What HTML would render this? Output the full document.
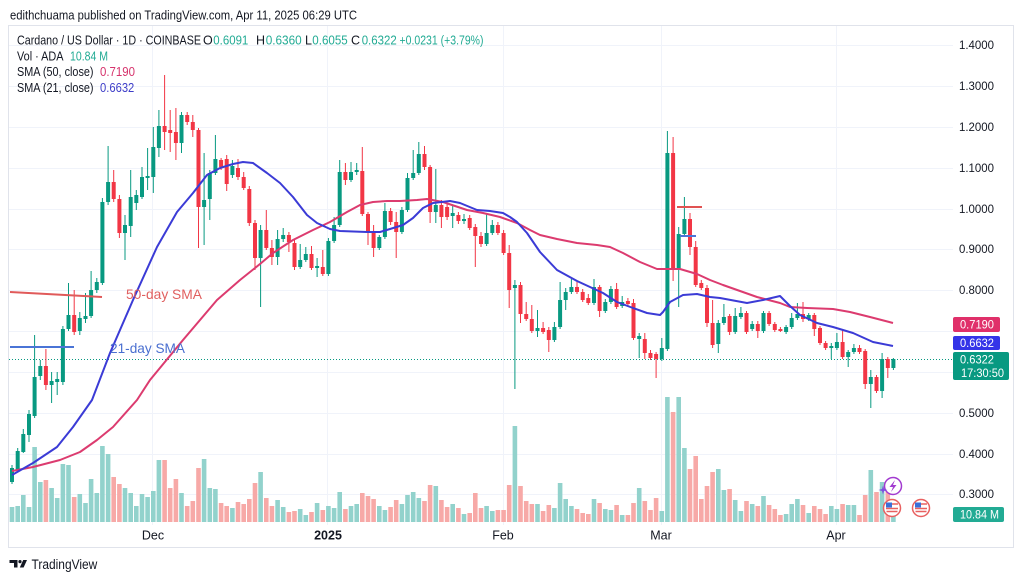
<!DOCTYPE html>
<html><head><meta charset="utf-8"><style>
html,body{margin:0;padding:0;background:#fff;}
svg{display:block;font-family:"Liberation Sans",sans-serif;}
</style></head><body>
<svg width="1024" height="581" viewBox="0 0 1024 581" xmlns="http://www.w3.org/2000/svg">
<rect width="1024" height="581" fill="#fff"/>
<!-- header -->
<text x="10" y="19.5" font-size="13" fill="#131722" textLength="347" lengthAdjust="spacingAndGlyphs">edithchuama published on TradingView.com, Apr 11, 2025 06:29 UTC</text>
<!-- frame -->
<rect x="8.5" y="25.5" width="1005" height="522" fill="none" stroke="#e0e3eb"/>
<!-- grid -->
<g stroke="#f0f3fa" stroke-width="1">
<path d="M9 45.5H953M9 86.5H953M9 127.5H953M9 168.5H953M9 209.5H953M9 249.5H953M9 290.5H953M9 331.5H953M9 372.5H953M9 413.5H953M9 454.5H953M9 494.5H953"/>
<path d="M152.5 26V525M327.5 26V525M503.5 26V525M661.5 26V525M836.5 26V525"/>
</g>
<!-- volume -->
<path fill="#92d2cc" d="M9.7 507h4.6V522h-4.6zM15.4 506h4.6V522h-4.6zM21 495h4.6V522h-4.6zM26.7 507h4.6V522h-4.6zM32.3 447h4.6V522h-4.6zM38 482h4.6V522h-4.6zM49.3 488h4.6V522h-4.6zM54.9 498h4.6V522h-4.6zM60.6 464h4.6V522h-4.6zM66.2 465h4.6V522h-4.6zM77.5 494h4.6V522h-4.6zM83.2 503h4.6V522h-4.6zM88.8 479h4.6V522h-4.6zM94.5 493h4.6V522h-4.6zM100.1 446h4.6V522h-4.6zM105.8 454h4.6V522h-4.6zM122.7 488h4.6V522h-4.6zM128.4 493h4.6V522h-4.6zM134 506h4.6V522h-4.6zM139.7 494h4.6V522h-4.6zM145.3 497h4.6V522h-4.6zM151 491h4.6V522h-4.6zM156.6 460h4.6V522h-4.6zM179.2 493h4.6V522h-4.6zM201.8 459h4.6V522h-4.6zM207.5 488h4.6V522h-4.6zM213.1 489h4.6V522h-4.6zM230.1 508h4.6V522h-4.6zM258.3 472h4.6V522h-4.6zM275.3 500h4.6V522h-4.6zM280.9 507h4.6V522h-4.6zM297.9 509h4.6V522h-4.6zM303.5 515h4.6V522h-4.6zM314.8 503h4.6V522h-4.6zM326.1 506h4.6V522h-4.6zM331.8 508h4.6V522h-4.6zM337.4 492h4.6V522h-4.6zM348.7 506h4.6V522h-4.6zM354.4 504h4.6V522h-4.6zM377 506h4.6V522h-4.6zM382.6 510h4.6V522h-4.6zM399.6 504h4.6V522h-4.6zM405.2 495h4.6V522h-4.6zM410.9 492h4.6V522h-4.6zM416.5 498h4.6V522h-4.6zM433.5 486h4.6V522h-4.6zM450.4 504h4.6V522h-4.6zM461.7 514h4.6V522h-4.6zM484.3 506h4.6V522h-4.6zM490 511h4.6V522h-4.6zM512.6 426h4.6V522h-4.6zM535.2 504h4.6V522h-4.6zM552.1 508h4.6V522h-4.6zM557.8 483h4.6V522h-4.6zM563.4 499h4.6V522h-4.6zM569.1 506h4.6V522h-4.6zM591.7 499h4.6V522h-4.6zM603 509h4.6V522h-4.6zM608.6 510h4.6V522h-4.6zM619.9 515h4.6V522h-4.6zM636.9 488h4.6V522h-4.6zM659.5 511h4.6V522h-4.6zM665.1 397h4.6V522h-4.6zM676.4 397h4.6V522h-4.6zM682.1 448h4.6V522h-4.6zM716 469h4.6V522h-4.6zM721.6 490h4.6V522h-4.6zM732.9 500h4.6V522h-4.6zM738.6 511h4.6V522h-4.6zM749.9 504h4.6V522h-4.6zM761.2 496h4.6V522h-4.6zM783.8 514h4.6V522h-4.6zM789.4 504h4.6V522h-4.6zM795.1 499h4.6V522h-4.6zM806.4 513h4.6V522h-4.6zM829 506h4.6V522h-4.6zM834.6 509h4.6V522h-4.6zM845.9 505h4.6V522h-4.6zM851.6 505h4.6V522h-4.6zM868.5 470h4.6V522h-4.6zM879.8 482h4.6V522h-4.6zM891.1 508h4.6V522h-4.6z"/>
<path fill="#f7a9a7" d="M43.6 480h4.6V522h-4.6zM71.9 497h4.6V522h-4.6zM111.4 477h4.6V522h-4.6zM117.1 484h4.6V522h-4.6zM162.3 460h4.6V522h-4.6zM167.9 488h4.6V522h-4.6zM173.6 479h4.6V522h-4.6zM184.9 506h4.6V522h-4.6zM190.5 501h4.6V522h-4.6zM196.2 468h4.6V522h-4.6zM218.8 503h4.6V522h-4.6zM224.4 506h4.6V522h-4.6zM235.7 502h4.6V522h-4.6zM241.4 504h4.6V522h-4.6zM247 499h4.6V522h-4.6zM252.7 483h4.6V522h-4.6zM264 498h4.6V522h-4.6zM269.6 506h4.6V522h-4.6zM286.6 512h4.6V522h-4.6zM292.2 511h4.6V522h-4.6zM309.2 512h4.6V522h-4.6zM320.5 510h4.6V522h-4.6zM343.1 509h4.6V522h-4.6zM360 493h4.6V522h-4.6zM365.7 496h4.6V522h-4.6zM371.3 499h4.6V522h-4.6zM388.3 507h4.6V522h-4.6zM393.9 500h4.6V522h-4.6zM422.2 501h4.6V522h-4.6zM427.8 485h4.6V522h-4.6zM439.1 500h4.6V522h-4.6zM444.8 507h4.6V522h-4.6zM456.1 508h4.6V522h-4.6zM467.4 513h4.6V522h-4.6zM473 493h4.6V522h-4.6zM478.7 508h4.6V522h-4.6zM495.6 510h4.6V522h-4.6zM501.3 510h4.6V522h-4.6zM506.9 485h4.6V522h-4.6zM518.2 486h4.6V522h-4.6zM523.9 501h4.6V522h-4.6zM529.5 504h4.6V522h-4.6zM540.8 511h4.6V522h-4.6zM546.5 505h4.6V522h-4.6zM574.7 509h4.6V522h-4.6zM580.4 513h4.6V522h-4.6zM586 514h4.6V522h-4.6zM597.3 503h4.6V522h-4.6zM614.3 505h4.6V522h-4.6zM625.6 515h4.6V522h-4.6zM631.2 503h4.6V522h-4.6zM642.5 501h4.6V522h-4.6zM648.2 510h4.6V522h-4.6zM653.8 498h4.6V522h-4.6zM670.8 412h4.6V522h-4.6zM687.7 469h4.6V522h-4.6zM693.4 456h4.6V522h-4.6zM699 499h4.6V522h-4.6zM704.7 486h4.6V522h-4.6zM710.3 472h4.6V522h-4.6zM727.3 489h4.6V522h-4.6zM744.2 501h4.6V522h-4.6zM755.5 506h4.6V522h-4.6zM766.8 505h4.6V522h-4.6zM772.5 509h4.6V522h-4.6zM778.1 515h4.6V522h-4.6zM800.7 505h4.6V522h-4.6zM812 506h4.6V522h-4.6zM817.7 509h4.6V522h-4.6zM823.3 514h4.6V522h-4.6zM840.3 504h4.6V522h-4.6zM857.2 515h4.6V522h-4.6zM862.9 495h4.6V522h-4.6zM874.2 492h4.6V522h-4.6zM885.5 490h4.6V522h-4.6z"/>
<!-- dotted last price line -->
<path d="M9 359.5H953" stroke="#089981" stroke-width="1" stroke-dasharray="1 2"/>
<!-- wicks -->
<path fill="none" stroke="#089981" stroke-width="1" d="M12 465V484M17.7 448V472M23.3 429V453M29 410V442M34.6 335V418M40.3 360V380M51.6 372V403M57.2 372V395M62.9 326V385M68.5 283V331M79.8 312V335M85.5 293V323M91.1 271V318M96.8 278V293M102.4 198V285M108.1 146V205M125 215V260M130.7 170V237M136.3 190V210M142 167V199M147.6 148V190M153.3 127V193M158.9 110V157M181.5 112V153M204.1 153V245M209.8 170V220M215.4 135V175M232.4 160V178M260.6 225V307M277.6 230V265M283.2 228V242M300.2 244V269M305.8 247V262M317.1 258V277M328.4 238V276M334.1 217V243M339.7 160V227M351 162V182M356.7 163V175M379.3 235V250M384.9 203V239M401.9 207V234M407.5 173V212M413.2 150V180M418.8 142V175M435.8 169V223M452.7 205V228M464 214V224M486.6 213V246M492.3 220V235M514.9 280V389M537.5 310V337M554.4 322V342M560.1 282V329M565.7 288V310M571.4 279V294M594 279V305M605.3 299V313M610.9 286V304M622.2 296V308M639.2 333V358M661.8 338V361M667.4 131V351M678.7 227V307M684.4 197V236M718.3 320V353M723.9 304V325M735.2 308V334M740.9 307V319M752.2 321V331M763.5 311V333M786.1 325V334M791.7 313V329M797.4 303V320M808.7 313V321M831.3 343V359M836.9 333V350M848.2 350V367M853.9 344V354M870.8 370V408M882.1 353V398M893.4 358V370"/>
<path fill="none" stroke="#f23645" stroke-width="1" d="M45.9 349V390M74.2 290V335M113.7 170V202M119.4 195V238M164.6 75V150M170.2 110V152M175.9 108V160M187.2 112V125M192.8 115V137M198.5 128V248M221.1 158V170M226.7 155V191M238 159V180M243.7 172V190M249.3 186V226M255 220V270M266.3 210V250M271.9 240V265M288.9 232V252M294.5 240V270M311.5 246V270M322.8 250V276M345.4 163V185M362.3 147V216M368 212V245M373.6 225V257M390.6 208V225M396.2 212V258M424.5 146V170M430.1 165V223M441.4 200V228M447.1 203V220M458.4 212V224M469.7 215V230M475.3 224V267M481 232V247M497.9 222V235M503.6 230V255M509.2 245V308M520.5 282V323M526.2 302V321M531.8 305V333M543.1 322V334M548.8 327V352M577 282V294M582.7 289V302M588.3 294V305M599.6 285V317M616.6 283V309M627.9 298V306M633.5 299V340M644.8 333V359M650.5 350V360M656.1 352V378M673.1 137V281M690 213V255M695.7 241V287M701.3 280V290M707 285V327M712.6 300V348M729.6 314V335M746.5 311V334M757.8 321V338M769.1 311V326M774.8 322V332M780.4 327V332M803 302V322M814.3 313V336M820 326V345M825.6 341V350M842.6 330V359M859.5 345V354M865.2 349V389M876.5 375V393M887.8 357V378"/>
<!-- bodies -->
<path fill="#089981" d="M10 468h4v14h-4zM15.7 451h4v19h-4zM21.3 434h4v18h-4zM27 414h4v21h-4zM32.6 377h4v39h-4zM38.3 366h4v10h-4zM49.6 381h4v4h-4zM55.2 379h4v3h-4zM60.9 329h4v53h-4zM66.5 315h4v14h-4zM77.8 318h4v13h-4zM83.5 316h4v3h-4zM89.1 290h4v26h-4zM94.8 282h4v8h-4zM100.4 202h4v81h-4zM106.1 182h4v20h-4zM123 225h4v8h-4zM128.7 197h4v29h-4zM134.3 195h4v8h-4zM140 177h4v20h-4zM145.6 176h4v2h-4zM151.3 147h4v30h-4zM156.9 126h4v22h-4zM179.5 115h4v28h-4zM202.1 200h4v7h-4zM207.8 173h4v26h-4zM213.4 159h4v14h-4zM230.4 166h4v9h-4zM258.6 230h4v28h-4zM275.6 239h4v18h-4zM281.2 235h4v4h-4zM298.2 260h4v7h-4zM303.8 254h4v6h-4zM315.1 266h4v2h-4zM326.4 241h4v33h-4zM332.1 225h4v16h-4zM337.7 172h4v53h-4zM349 172h4v8h-4zM354.7 170h4v2h-4zM377.3 237h4v11h-4zM382.9 211h4v26h-4zM399.9 210h4v22h-4zM405.5 178h4v32h-4zM411.2 173h4v5h-4zM416.8 154h4v19h-4zM433.8 205h4v7h-4zM450.7 213h4v3h-4zM462 219h4v2h-4zM484.6 233h4v11h-4zM490.3 225h4v8h-4zM512.9 285h4v3h-4zM535.5 328h4v3h-4zM552.4 327h4v13h-4zM558.1 300h4v27h-4zM563.7 292h4v8h-4zM569.4 287h4v5h-4zM592 287h4v16h-4zM603.3 302h4v9h-4zM608.9 289h4v13h-4zM620.2 302h4v4h-4zM637.2 336h4v3h-4zM659.8 348h4v11h-4zM665.4 153h4v196h-4zM676.7 234h4v34h-4zM682.4 219h4v15h-4zM716.3 323h4v21h-4zM721.9 317h4v6h-4zM733.2 316h4v16h-4zM738.9 313h4v4h-4zM750.2 324h4v5h-4zM761.5 313h4v18h-4zM784.1 327h4v5h-4zM789.7 318h4v9h-4zM795.4 314h4v4h-4zM806.7 315h4v4h-4zM829.3 346h4v2h-4zM834.9 342h4v6h-4zM846.2 352h4v5h-4zM851.9 348h4v4h-4zM868.8 377h4v7h-4zM880.1 359h4v32h-4zM891.4 359h4v9h-4z"/>
<path fill="#f23645" d="M43.9 366h4v19h-4zM72.2 315h4v17h-4zM111.7 182h4v17h-4zM117.4 199h4v34h-4zM162.6 126h4v6h-4zM168.2 130h4v3h-4zM173.9 132h4v11h-4zM185.2 115h4v7h-4zM190.8 122h4v8h-4zM196.5 130h4v77h-4zM219.1 160h4v7h-4zM224.7 159h4v25h-4zM236 168h4v9h-4zM241.7 177h4v11h-4zM247.3 189h4v34h-4zM253 223h4v35h-4zM264.3 230h4v18h-4zM269.9 248h4v9h-4zM286.9 235h4v7h-4zM292.5 243h4v24h-4zM309.5 254h4v14h-4zM320.8 267h4v7h-4zM343.4 172h4v8h-4zM360.3 171h4v43h-4zM366 214h4v18h-4zM371.6 232h4v16h-4zM388.6 211h4v11h-4zM394.2 222h4v10h-4zM422.5 154h4v13h-4zM428.1 167h4v45h-4zM439.4 205h4v12h-4zM445.1 207h4v10h-4zM456.4 215h4v6h-4zM467.7 218h4v10h-4zM473.3 227h4v9h-4zM479 236h4v8h-4zM495.9 225h4v8h-4zM501.6 233h4v20h-4zM507.2 253h4v37h-4zM518.5 285h4v29h-4zM524.2 314h4v5h-4zM529.8 319h4v12h-4zM541.1 328h4v4h-4zM546.8 330h4v10h-4zM575 287h4v5h-4zM580.7 292h4v8h-4zM586.3 298h4v5h-4zM597.6 287h4v24h-4zM614.6 289h4v18h-4zM625.9 301h4v3h-4zM631.5 303h4v35h-4zM642.8 339h4v14h-4zM648.5 353h4v5h-4zM654.1 354h4v5h-4zM671.1 153h4v115h-4zM688 219h4v28h-4zM693.7 247h4v38h-4zM699.3 283h4v5h-4zM705 288h4v35h-4zM710.6 323h4v22h-4zM727.6 316h4v16h-4zM744.5 313h4v19h-4zM755.8 324h4v7h-4zM767.1 313h4v11h-4zM772.8 324h4v6h-4zM778.4 329h4v2h-4zM801 314h4v5h-4zM812.3 315h4v14h-4zM818 328h4v15h-4zM823.6 343h4v5h-4zM840.6 342h4v15h-4zM857.5 348h4v4h-4zM863.2 351h4v33h-4zM874.5 377h4v14h-4zM885.8 359h4v9h-4z"/>
<!-- SMAs -->
<path fill="none" stroke="#dc3b6f" stroke-width="2" stroke-linejoin="round" d="M12 471L33 467L60 460L80 452L97 440L113 427L137 400L150 380L183 340L217 300L240 280L260 264L273 253L293 240L313 230L330 222L347 212L360 205L373 202L387 201L400 201L417 200L427 199L443 202L467 210L483 213L500 217L517 223L530 230L540 235L557 239L577 243L597 245L610 247L623 253L640 262L657 269L667 269L680 269L697 274L710 280L723 285L757 297L780 303L790 307L807 308L833 309L850 312L870 317L893 323"/>
<path fill="none" stroke="#3b3bd6" stroke-width="2" stroke-linejoin="round" d="M12 475L33 463L57 447L73 427L92 400L110 353L133 300L157 247L177 212L193 193L207 175L220 168L233 164L243 162L253 163L267 173L280 183L293 197L307 215L317 223L330 229L340 231L367 232L380 232L390 229L403 225L413 218L423 208L433 203L450 201L460 203L477 210L490 211L503 213L510 217L517 222L527 233L540 252L557 270L577 281L590 287L603 293L617 302L633 308L647 313L660 315L663 312L670 302L683 295L697 294L710 297L720 298L747 303L763 300L780 296L790 306L800 315L817 323L833 327L853 333L873 342L893 346"/>
<!-- annotations -->
<path d="M10 292L102 297" stroke="#e05a5a" stroke-width="2"/>
<text x="126" y="299" font-size="14" fill="#e06060" textLength="76" lengthAdjust="spacingAndGlyphs">50-day SMA</text>
<path d="M10 347H74" stroke="#4a74d6" stroke-width="2"/>
<text x="110" y="353" font-size="14" fill="#4a6fd0" textLength="75" lengthAdjust="spacingAndGlyphs">21-day SMA</text>
<path d="M677 207H702" stroke="#e05252" stroke-width="2"/>
<path d="M680 236H696" stroke="#4a74d6" stroke-width="2"/>
<!-- icons -->
<circle cx="893" cy="486" r="8.5" fill="#fff" stroke="#a23bd0" stroke-width="1.5"/>
<path d="M895 480L889.5 487H893L891 492L896.5 485H893Z" fill="#a23bd0"/>
<path d="M883 485.5L884 489L887.5 490L884 491L883 494.5L882 491L878.5 490L882 489Z" fill="#7b4fe0"/>
<g>
<circle cx="892" cy="508" r="8.5" fill="#fff" stroke="#e86060" stroke-width="1.5"/>
<rect x="886" y="502.5" width="6" height="5" fill="#3a6fd8"/>
<path d="M892 504H898M886 508.5H898M886.5 511.5H897.5" stroke="#e86060" stroke-width="1.4"/>
<circle cx="921" cy="508" r="8.5" fill="#fff" stroke="#e86060" stroke-width="1.5"/>
<rect x="915" y="502.5" width="6" height="5" fill="#3a6fd8"/>
<path d="M921 504H927M915 508.5H927M915.5 511.5H926.5" stroke="#e86060" stroke-width="1.4"/>
</g>
<!-- price axis -->
<g font-size="11.5" fill="#131722">
<text x="959" y="49" textLength="35" lengthAdjust="spacingAndGlyphs">1.4000</text>
<text x="959" y="90" textLength="35" lengthAdjust="spacingAndGlyphs">1.3000</text>
<text x="959" y="131" textLength="35" lengthAdjust="spacingAndGlyphs">1.2000</text>
<text x="959" y="172" textLength="35" lengthAdjust="spacingAndGlyphs">1.1000</text>
<text x="959" y="213" textLength="35" lengthAdjust="spacingAndGlyphs">1.0000</text>
<text x="959" y="253" textLength="35" lengthAdjust="spacingAndGlyphs">0.9000</text>
<text x="959" y="294" textLength="35" lengthAdjust="spacingAndGlyphs">0.8000</text>
<text x="959" y="417" textLength="35" lengthAdjust="spacingAndGlyphs">0.5000</text>
<text x="959" y="458" textLength="35" lengthAdjust="spacingAndGlyphs">0.4000</text>
<text x="959" y="498" textLength="35" lengthAdjust="spacingAndGlyphs">0.3000</text>
</g>
<rect x="953" y="317" width="47" height="15" rx="2" fill="#e0306a"/>
<text x="960" y="328.5" font-size="11.5" fill="#fff" textLength="34" lengthAdjust="spacingAndGlyphs">0.7190</text>
<rect x="953" y="336" width="47" height="14" rx="2" fill="#3434e8"/>
<text x="960" y="347" font-size="11.5" fill="#fff" textLength="34" lengthAdjust="spacingAndGlyphs">0.6632</text>
<rect x="953" y="352" width="56" height="28" rx="2" fill="#089981"/>
<text x="960" y="363.5" font-size="11.5" fill="#fff" textLength="34" lengthAdjust="spacingAndGlyphs">0.6322</text>
<text x="961" y="377" font-size="11.5" fill="#fff" textLength="43" lengthAdjust="spacingAndGlyphs">17:30:50</text>
<rect x="953" y="507" width="51" height="15" rx="2" fill="#22ab94"/>
<text x="960" y="518.5" font-size="11.5" fill="#fff" textLength="39" lengthAdjust="spacingAndGlyphs">10.84 M</text>
<!-- time axis -->
<g font-size="12.5" fill="#131722" text-anchor="middle">
<text x="153" y="539.5">Dec</text>
<text x="328" y="539.5" font-weight="bold">2025</text>
<text x="503" y="539.5">Feb</text>
<text x="661" y="539.5">Mar</text>
<text x="836" y="539.5">Apr</text>
</g>
<!-- legend -->
<g font-size="12.5">
<text x="17" y="44.3" fill="#131722" textLength="184" lengthAdjust="spacingAndGlyphs">Cardano / US Dollar · 1D · COINBASE</text>
<text x="203" y="44.3" fill="#131722">O</text>
<text x="213.3" y="44.3" fill="#22ab94" textLength="35" lengthAdjust="spacingAndGlyphs">0.6091</text>
<text x="256" y="44.3" fill="#131722">H</text>
<text x="265.7" y="44.3" fill="#22ab94" textLength="36" lengthAdjust="spacingAndGlyphs">0.6360</text>
<text x="305" y="44.3" fill="#131722">L</text>
<text x="312.3" y="44.3" fill="#22ab94" textLength="35.4" lengthAdjust="spacingAndGlyphs">0.6055</text>
<text x="351" y="44.3" fill="#131722">C</text>
<text x="361.7" y="44.3" fill="#22ab94" textLength="35" lengthAdjust="spacingAndGlyphs">0.6322</text>
<text x="399.5" y="44.3" fill="#22ab94" textLength="84" lengthAdjust="spacingAndGlyphs">+0.0231 (+3.79%)</text>
<text x="17" y="60.3" fill="#131722" textLength="46.5" lengthAdjust="spacingAndGlyphs">Vol · ADA</text>
<text x="70" y="60.3" fill="#22ab94" textLength="38" lengthAdjust="spacingAndGlyphs">10.84 M</text>
<text x="17" y="76" fill="#131722" textLength="76.5" lengthAdjust="spacingAndGlyphs">SMA (50, close)</text>
<text x="100" y="76" fill="#d6336c" textLength="35" lengthAdjust="spacingAndGlyphs">0.7190</text>
<text x="17" y="92" fill="#131722" textLength="76.5" lengthAdjust="spacingAndGlyphs">SMA (21, close)</text>
<text x="100" y="92" fill="#3d3dc8" textLength="34.3" lengthAdjust="spacingAndGlyphs">0.6632</text>
</g>
<!-- logo -->
<path d="M9.5 560h8v7.5h-3.5v-4.5h-4.5z" fill="#131722"/>
<circle cx="20" cy="561.6" r="1.6" fill="#131722"/>
<path d="M23.2 560h3.8l-3.4 7.5h-3.8z" fill="#131722"/>
<text x="31.5" y="569" font-size="13.5" fill="#131722" textLength="65.8" lengthAdjust="spacingAndGlyphs">TradingView</text>
</svg>
</body></html>
